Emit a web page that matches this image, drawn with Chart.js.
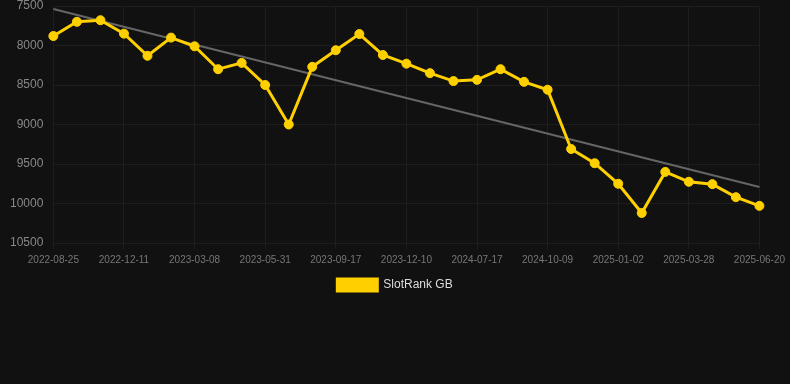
<!DOCTYPE html>
<html>
<head>
<meta charset="utf-8">
<script src="https://cdn.jsdelivr.net/npm/chart.js@4"></script>
<style>
  html, body { margin: 0; padding: 0; background: #111111; }
  .wrap { width: 790px; height: 307px; position: relative; }
</style>
</head>
<body>
<div class="wrap"><canvas id="rankChart"></canvas></div>
<script>
// dates (only every third one is shown on the axis)
const labels = [
  '2022-08-25', '2022-09-30', '2022-11-05', '2022-12-11', '2023-01-09', '2023-02-07',
  '2023-03-08', '2023-04-04', '2023-05-02', '2023-05-31', '2023-07-06', '2023-08-11',
  '2023-09-17', '2023-10-15', '2023-11-12', '2023-12-10', '2024-03-01', '2024-05-10',
  '2024-07-17', '2024-08-14', '2024-09-11', '2024-10-09', '2024-11-05', '2024-12-04',
  '2025-01-02', '2025-01-30', '2025-02-28', '2025-03-28', '2025-04-25', '2025-05-23',
  '2025-06-20'
];
const rankGB = [
  7880, 7700, 7680, 7850, 8130, 7900, 8010, 8300, 8220, 8500, 9000, 8270,
  8060, 7855, 8120, 8230, 8350, 8450, 8435, 8300, 8460, 8560, 9310, 9490,
  9750, 10120, 9600, 9725, 9755, 9920, 10030
];
// trend line, start and end only
const trendStart = 7538;
const trendEnd = 9790;
const yTicks = [7500, 8000, 8500, 9000, 9500, 10000, 10500];

const trend = labels.map(function (l, i) {
  if (i === 0) return trendStart;
  if (i === labels.length - 1) return trendEnd;
  return null;
});

Chart.defaults.font.family = 'Arial, "Liberation Sans", sans-serif';

const ctx = document.getElementById('rankChart');

new Chart(ctx, {
  type: 'line',
  data: {
    labels: labels,
    datasets: [{
      label: 'SlotRank GB',
      data: rankGB,
      borderColor: '#FFD000',
      backgroundColor: '#FFD000',
      borderWidth: 3,
      pointRadius: 4.5,
      pointBorderWidth: 1,
      pointHoverRadius: 4.5,
      pointBackgroundColor: '#FFD000',
      pointBorderColor: '#FFD000',
      tension: 0,
      order: 1
    }, {
      label: 'trend',
      data: trend,
      spanGaps: true,
      borderColor: '#666666',
      borderWidth: 2,
      pointRadius: 0,
      tension: 0,
      order: 2
    }]
  },
  options: {
    responsive: true,
    maintainAspectRatio: false,
    animation: false,
    layout: { padding: { top: 0, right: 0, left: 0, bottom: 6 } },
    plugins: {
      legend: {
        position: 'bottom',
        labels: {
          color: '#dddddd',
          font: { size: 12 },
          boxWidth: 40,
          boxHeight: 12,
          padding: 8,
          filter: function (item) { return item.text !== 'trend'; }
        }
      },
      tooltip: { enabled: false }
    },
    scales: {
      x: {
        grid: { color: '#1e1e1e', tickLength: 6 },
        border: { color: '#1e1e1e' },
        ticks: {
          color: '#777777',
          font: { size: 10 },
          padding: 5,
          autoSkip: false,
          maxRotation: 0,
          callback: function (val, i) {
            return i % 3 === 0 ? labels[i] : null;
          }
        }
      },
      y: {
        reverse: true,
        min: yTicks[0],
        max: yTicks[yTicks.length - 1],
        grid: { color: '#1e1e1e', drawTicks: false },
        border: { color: '#1e1e1e' },
        afterBuildTicks: function (axis) {
          axis.ticks = yTicks.map(function (v) { return { value: v }; });
        },
        afterFit: function (axis) {
          axis.paddingTop = 6;
        },
        ticks: {
          color: '#888888',
          font: { size: 12 },
          padding: 10,
          callback: function (val) { return String(val); }
        }
      }
    }
  }
});
</script>
</body>
</html>
